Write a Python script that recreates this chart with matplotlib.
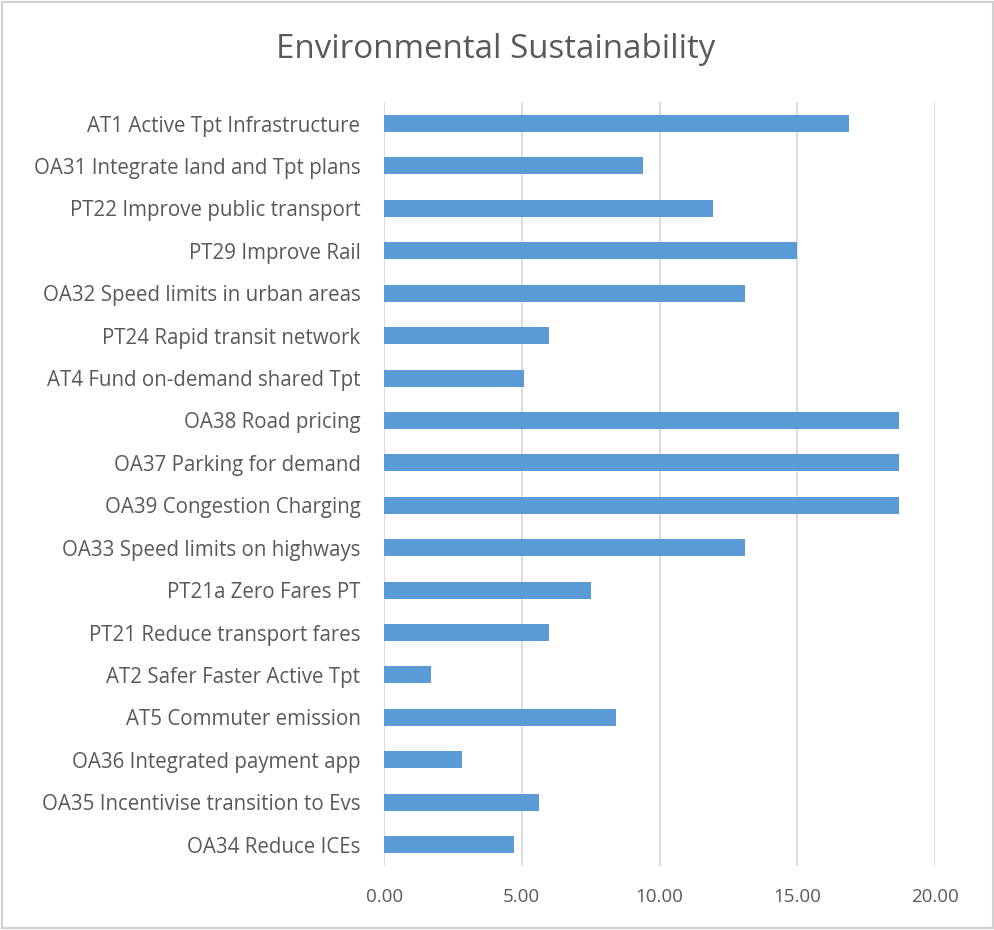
import matplotlib.pyplot as plt
from matplotlib.patches import Rectangle

labels = [
    "AT1 Active Tpt Infrastructure",
    "OA31 Integrate land and Tpt plans",
    "PT22 Improve public transport",
    "PT29 Improve Rail",
    "OA32 Speed limits in urban areas",
    "PT24 Rapid transit network",
    "AT4 Fund on-demand shared Tpt",
    "OA38 Road pricing",
    "OA37 Parking for demand",
    "OA39 Congestion Charging",
    "OA33 Speed limits on highways",
    "PT21a Zero Fares PT",
    "PT21 Reduce transport fares",
    "AT2 Safer Faster Active Tpt",
    "AT5 Commuter emission",
    "OA36 Integrated payment app",
    "OA35 Incentivise transition to Evs",
    "OA34 Reduce ICEs",
]
scores = [16.88, 9.40, 11.95, 14.99, 13.10, 6.00, 5.09, 18.69, 18.69, 18.69,
          13.10, 7.50, 6.00, 1.69, 8.41, 2.82, 5.61, 4.71]
xticks = [0, 5, 10, 15, 20]

plt.rcParams['font.family'] = ['Open Sans', 'DejaVu Sans']
grey = '#595959'

fig = plt.figure(figsize=(9.95, 9.3), dpi=100)
ax = fig.add_axes([0.386, 0.069, 0.5537, 0.821])

ypos = list(range(len(labels)))
ax.barh(ypos, scores, height=0.4, color='#5B9BD5', zorder=3)
ax.set_ylim(len(labels) - 0.5, -0.5)
ax.set_xlim(0, 20)
ax.set_yticks(ypos)
ax.set_yticklabels(labels, fontsize=14.8, color=grey)
ax.set_xticks(xticks)
ax.set_xticklabels([f"{v:.2f}" for v in xticks], fontsize=13.5, color=grey)
ax.tick_params(length=0, pad=17, axis='y')
ax.tick_params(length=0, pad=16, axis='x')
ax.grid(axis='x', color='#D9D9D9', linewidth=1.3, zorder=0)
for s in ax.spines.values():
    s.set_visible(False)

fig.text(0.498, 0.947, "Environmental Sustainability", ha='center', va='center',
         fontsize=23.8, color=grey)

# light frame round the chart
fig.patches.append(Rectangle((0.002, 0.002), 0.996, 0.996, transform=fig.transFigure,
                             fill=False, edgecolor='#D0D0D0', linewidth=1.5))

fig.savefig('out.png', dpi=100)
